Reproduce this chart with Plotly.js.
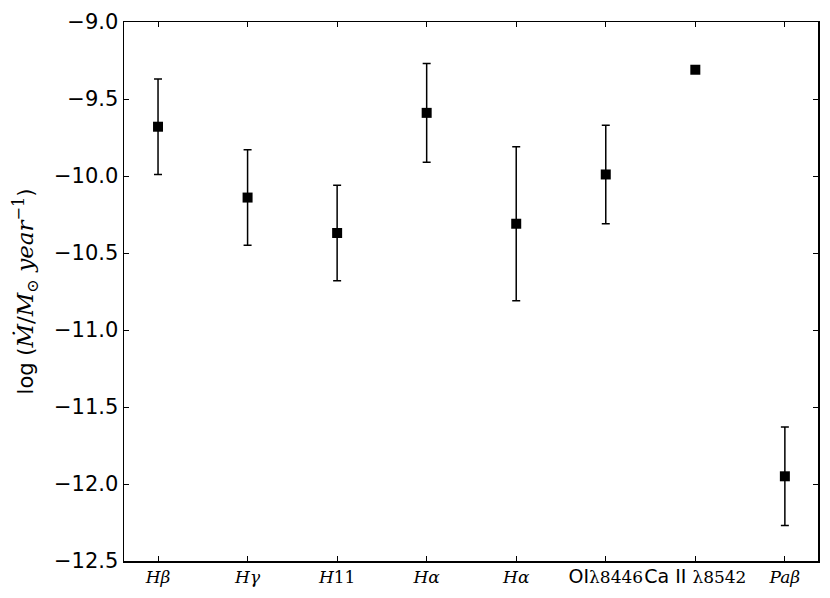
<!DOCTYPE html>
<html>
<head>
<meta charset="utf-8">
<script src="https://cdn.plot.ly/plotly-3.0.1.min.js"></script>
<style>html,body{margin:0;padding:0;background:#fff;}#chart{width:830px;height:598px;}</style>
</head>
<body>
<div id="chart"></div>
<script>
var SERIF = "'DejaVu Serif', 'Liberation Serif', serif";
var lines = ["Hβ", "Hγ", "H11", "Hα", "Hα", "OIλ8446", "Ca II λ8542", "Paβ"];
var tickLabels = [
  "<i>Hβ</i>",
  "<i>Hγ</i>",
  "<i>H</i>11",
  "<i>Hα</i>",
  "<i>Hα</i>",
  "<span style=\"font-family:DejaVu Sans;font-size:19px\">OI</span>λ8446",
  "<span style=\"font-family:DejaVu Sans;font-size:19px\">Ca II </span>λ8542",
  "<i>Paβ</i>"
];
var logMdot = [-9.68, -10.14, -10.37, -9.59, -10.31, -9.99, -9.31, -11.95];
var errMdot = [0.31, 0.31, 0.31, 0.32, 0.50, 0.32, 0, 0.32];
var xIdx = lines.map(function(_, i){ return i; });

var trace = {
  x: xIdx,
  y: logMdot,
  type: 'scatter',
  mode: 'markers',
  marker: {symbol: 'square', size: 10, color: '#000'},
  error_y: {type: 'data', array: errMdot, visible: true, color: '#000', thickness: 1.5, width: 4},
  showlegend: false,
  hoverinfo: 'skip'
};

var layout = {
  width: 830, height: 598,
  margin: {l: 124, r: 12, t: 22, b: 37},
  paper_bgcolor: '#fff', plot_bgcolor: '#fff',
  font: {family: 'DejaVu Sans', color: '#000', size: 17},
  xaxis: {
    range: [-0.38, 7.37],
    tickmode: 'array', tickvals: xIdx, ticktext: tickLabels,
    tickangle: 0,
    tickfont: {family: SERIF, size: 17, color: '#000'},
    ticks: 'inside', ticklen: 5, tickwidth: 1, tickcolor: '#000',
    showline: true, linecolor: '#000', linewidth: 1.5, mirror: 'allticks',
    showgrid: false, zeroline: false, fixedrange: true
  },
  yaxis: {
    range: [-12.5, -9.0],
    tick0: -12.5, dtick: 0.5, tickformat: '.1f',
    tickfont: {family: 'DejaVu Sans', size: 21, color: '#000'},
    ticks: 'inside', ticklen: 5, tickwidth: 1, tickcolor: '#000',
    showline: true, linecolor: '#000', linewidth: 1.5, mirror: 'allticks',
    showgrid: false, zeroline: false, fixedrange: true,
    title: {
      text: "log (<span style=\"font-family:DejaVu Serif;font-size:23px\"><i>Ṁ</i>/<i>M</i><sub>⊙</sub> <i>year</i><sup>−1</sup></span>)",
      font: {family: 'DejaVu Sans', size: 21, color: '#000'},
      standoff: 14
    }
  }
};

Plotly.newPlot('chart', [trace], layout, {displayModeBar: false, staticPlot: true});
</script>
</body>
</html>
